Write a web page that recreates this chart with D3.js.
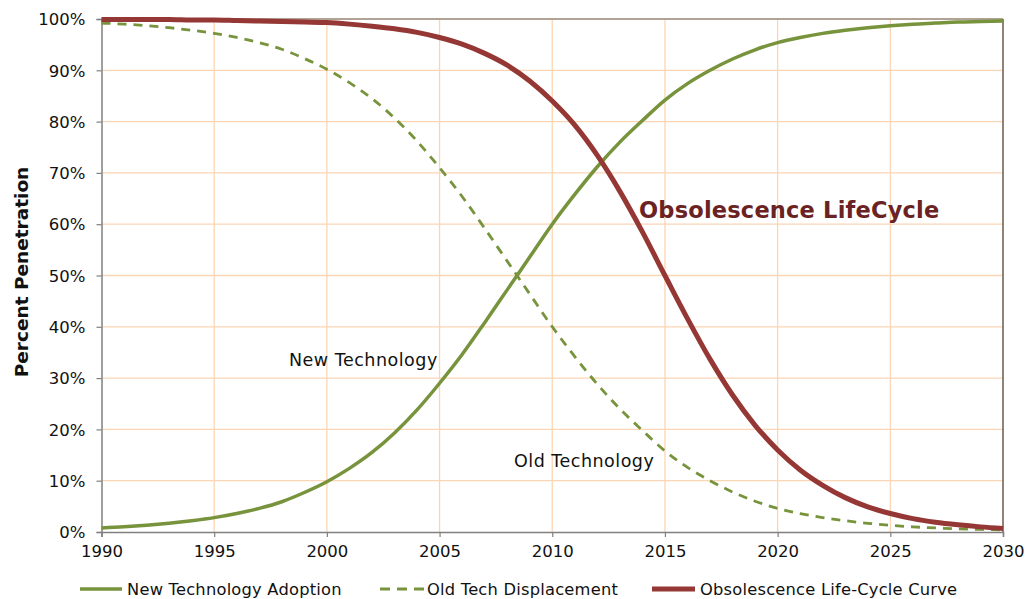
<!DOCTYPE html>
<html><head><meta charset="utf-8">
<script src="https://cdn.jsdelivr.net/npm/d3@7"></script>
<style>body{margin:0;background:#fff;} svg{display:block;font-family:"DejaVu Sans",Verdana,sans-serif;}</style>
</head><body><svg id="c" width="1033" height="599"></svg>
<script>
const years = d3.range(1990, 2031);
const newTech = [0.8,1.0,1.3,1.7,2.2,2.8,3.6,4.6,5.9,7.7,9.8,12.4,15.5,19.3,23.8,29.0,34.6,40.8,47.2,53.6,60.0,65.8,71.2,76.0,80.2,84.2,87.4,90.0,92.2,94.0,95.4,96.4,97.2,97.8,98.3,98.7,99.0,99.2,99.4,99.5,99.6];
const oldTech = [99.2,99.0,98.7,98.3,97.8,97.2,96.4,95.4,94.1,92.3,90.2,87.6,84.5,80.7,76.2,71.0,65.4,59.2,52.8,46.4,40.0,34.2,28.8,24.0,19.8,15.8,12.6,10.0,7.8,6.0,4.6,3.6,2.8,2.2,1.7,1.3,1.0,0.8,0.6,0.5,0.4];
const obsolete = [99.9,99.9,99.9,99.9,99.8,99.8,99.7,99.6,99.5,99.4,99.3,99.0,98.6,98.1,97.4,96.4,95.1,93.3,91.0,87.9,84.0,79.3,73.4,66.4,58.5,50.0,41.6,33.7,26.7,20.8,16.0,12.1,9.1,6.7,4.9,3.6,2.6,1.9,1.4,1.0,0.7];
const xTicks = [1990,1995,2000,2005,2010,2015,2020,2025,2030];
const yTicks = [0,10,20,30,40,50,60,70,80,90,100];
const seriesNames = ["New Technology Adoption","Old Tech Displacement","Obsolescence Life-Cycle Curve"];

const green = "#77933c", red = "#953735", grid = "#fcd5b4";
const svg = d3.select("#c");
const L = 101.5, R = 1003, T = 19, B = 532;
const x = d3.scaleLinear().domain([1990, 2030]).range([L, R]);
const y = d3.scaleLinear().domain([0, 100]).range([B, T]);

// gridlines
svg.append("g").selectAll("line.h").data(yTicks.filter(v=>v>0)).join("line")
  .attr("x1", L).attr("x2", R).attr("y1", d=>y(d)).attr("y2", d=>y(d))
  .attr("stroke", grid).attr("stroke-width", 1.3);
svg.append("g").selectAll("line.v").data(xTicks.filter(v=>v>1990)).join("line")
  .attr("x1", d=>x(d)).attr("x2", d=>x(d)).attr("y1", T).attr("y2", B)
  .attr("stroke", grid).attr("stroke-width", 1.3);

// right border & top
svg.append("line").attr("x1", R).attr("x2", R).attr("y1", T).attr("y2", B).attr("stroke", "#222").attr("stroke-width", 1);
svg.append("line").attr("x1", L).attr("x2", R).attr("y1", T).attr("y2", T).attr("stroke", "#666").attr("stroke-width", 1);

// axes
const yAxis = svg.append("g").attr("transform", `translate(${L},0)`)
  .call(d3.axisLeft(y).tickValues(yTicks).tickFormat(d=>d+"%").tickSize(5).tickPadding(11));
const xAxis = svg.append("g").attr("transform", `translate(0,${B})`)
  .call(d3.axisBottom(x).tickValues(xTicks).tickFormat(d3.format("d")).tickSize(5).tickPadding(8));
[yAxis, xAxis].forEach(a => {
  a.select(".domain").attr("stroke", "#808080").attr("stroke-width", 1.5);
  a.selectAll(".tick line").attr("stroke", "#808080").attr("stroke-width", 1.2);
  a.selectAll(".tick text").attr("fill", "#111").style("font-size", "16.5px").style("font-family", '"DejaVu Sans",Verdana,sans-serif');
});
yAxis.selectAll(".tick text").attr("dy", "0.35em");

const line = vals => d3.line().x((d,i)=>x(years[i])).y(d=>y(d)).curve(d3.curveMonotoneX)(vals);
svg.append("path").attr("d", line(oldTech)).attr("fill","none").attr("stroke", green).attr("stroke-width", 2.8).attr("stroke-dasharray","9,7");
svg.append("path").attr("d", line(newTech)).attr("fill","none").attr("stroke", green).attr("stroke-width", 3.5);
svg.append("path").attr("d", line(obsolete)).attr("fill","none").attr("stroke", red).attr("stroke-width", 5);

// annotations
svg.append("text").attr("x", 289).attr("y", 366).text("New Technology").attr("fill","#111").style("font-size","17.5px").style("letter-spacing","0.5px");
svg.append("text").attr("x", 514).attr("y", 467).text("Old Technology").attr("fill","#111").style("font-size","17.5px").style("letter-spacing","0.5px");
svg.append("text").attr("x", 639).attr("y", 218).text("Obsolescence LifeCycle").attr("fill","#6b2222").style("font-size","22.5px").style("font-weight","bold").style("letter-spacing","0.2px");

// y title
svg.append("text").attr("transform","translate(28,272) rotate(-90)").attr("text-anchor","middle")
  .text("Percent Penetration").attr("fill","#111").style("font-size","18.5px").style("font-weight","bold");

// legend
const leg = [
  {name: seriesNames[0], x1: 80, x2: 122, tx: 127, color: green, w: 3.5, dash: null},
  {name: seriesNames[1], x1: 380, x2: 424, tx: 427, color: green, w: 2.8, dash: "10,7"},
  {name: seriesNames[2], x1: 652, x2: 695, tx: 700, color: red, w: 5, dash: null}
];
const lg = svg.append("g").selectAll("g").data(leg).join("g");
lg.append("line").attr("x1", d=>d.x1).attr("x2", d=>d.x2).attr("y1", 589).attr("y2", 589)
  .attr("stroke", d=>d.color).attr("stroke-width", d=>d.w).attr("stroke-dasharray", d=>d.dash);
lg.append("text").attr("x", d=>d.tx).attr("y", 595).text(d=>d.name).attr("fill","#111").style("font-size","16.3px").style("letter-spacing","0.22px");
</script></body></html>
